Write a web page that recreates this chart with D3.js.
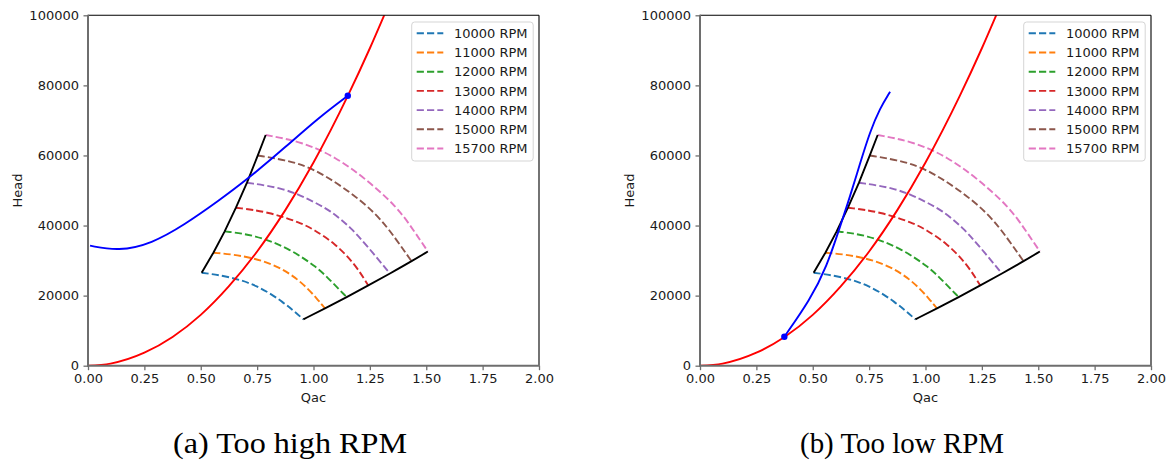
<!DOCTYPE html>
<html>
<head>
<meta charset="utf-8">
<script src="https://cdn.jsdelivr.net/npm/d3@7"></script>
<style>
body { margin: 0; background: #fff; }
</style>
</head>
<body>
<div id="graph"></div>
<script>
// speed lines, [Qac, Head]
var rpmLabels = ["10000 RPM", "11000 RPM", "12000 RPM", "13000 RPM", "14000 RPM", "15000 RPM", "15700 RPM"];
var rpmColors = ["#1f77b4", "#ff7f0e", "#2ca02c", "#d62728", "#9467bd", "#8c564b", "#e377c2"];
var rpm10000 = [[0.504, 26540], [0.63, 25400], [0.748, 23030], [0.866, 18260], [0.955, 13240]];
var rpm11000 = [[0.556, 32250], [0.674, 31590], [0.822, 29220], [0.94, 24460], [1.021, 18750], [1.051, 16360]];
var rpm12000 = [[0.606, 38350], [0.74, 37300], [0.89, 33600], [1.02, 27900], [1.073, 24460], [1.147, 19580]];
var rpm13000 = [[0.656, 45090], [0.8, 43950], [0.948, 40640], [1.0, 38900], [1.095, 34930], [1.184, 29000], [1.243, 22890]];
var rpm14000 = [[0.705, 52230], [0.874, 50630], [0.984, 47290], [1.073, 44440], [1.169, 39210], [1.236, 34300], [1.339, 26300]];
var rpm15000 = [[0.753, 60000], [0.874, 58700], [0.984, 56800], [1.132, 51080], [1.28, 43490], [1.369, 35870], [1.435, 29800]];
var rpm15700 = [[0.788, 65840], [0.95, 63900], [1.1, 59500], [1.23, 53400], [1.37, 45400], [1.443, 38730], [1.507, 32600]];

var surgeLine = [[0.504, 26540], [0.556, 32250], [0.606, 38350], [0.656, 45090], [0.705, 52230], [0.753, 60000], [0.788, 65840]];
var chokeLine = [[0.955, 13240], [1.051, 16360], [1.147, 19580], [1.243, 22890], [1.339, 26300], [1.435, 29800], [1.507, 32600]];

var systemCurve = [[0, 0], [0.1, 600], [0.25, 3700], [0.375, 8190], [0.5, 14500], [0.625, 22700], [0.75, 32600],
                   [0.875, 44400], [1.0, 58000], [1.152, 77000], [1.25, 90600], [1.33, 102500]];

var blueHigh = [[0.009, 34250], [0.135, 32700], [0.282, 34800], [0.43, 40300], [0.578, 47000], [0.707, 53200],
                [0.874, 62300], [1.021, 70700], [1.152, 77050]];
var blueLow = [[0.374, 8280], [0.488, 18750], [0.562, 28250], [0.621, 39670], [0.665, 48230], [0.71, 57760],
               [0.754, 66800], [0.798, 73460], [0.843, 78200]];
var highDot = [1.152, 77050];
var lowDot = [0.374, 8280];

var xTicks = [0, 0.25, 0.5, 0.75, 1.0, 1.25, 1.5, 1.75, 2.0];
var yTicks = [0, 20000, 40000, 60000, 80000, 100000];
var captions = ["(a) Too high RPM", "(b) Too low RPM"];

var speedLines = [rpm10000, rpm11000, rpm12000, rpm13000, rpm14000, rpm15000, rpm15700];

var W = 1171, H = 464;
var svg = d3.select("#graph")
            .append("svg")
            .attr("width", W)
            .attr("height", H);

function panel(left, blue, dot, caption, capW, id)
{
    var top = 15.3, bottom = 365.7, w = 451;
    var x = d3.scaleLinear().domain([0, 2]).range([left, left + w]);
    var y = d3.scaleLinear().domain([0, 100000]).range([bottom, top]);

    svg.append("clipPath").attr("id", "clip" + id)
        .append("rect")
        .attr("x", left).attr("y", top)
        .attr("width", w).attr("height", bottom - top);

    var g = svg.append("g");
    var plot = g.append("g").attr("clip-path", "url(#clip" + id + ")");

    var smooth = d3.line()
                   .x(function(d) { return x(d[0]); })
                   .y(function(d) { return y(d[1]); })
                   .curve(d3.curveBasis);
    var straight = d3.line()
                     .x(function(d) { return x(d[0]); })
                     .y(function(d) { return y(d[1]); });
    var through = d3.line()
                    .x(function(d) { return x(d[0]); })
                    .y(function(d) { return y(d[1]); })
                    .curve(d3.curveMonotoneX);

    speedLines.forEach(function(s, i) {
        plot.append("path")
            .attr("d", smooth(s))
            .attr("fill", "none")
            .attr("stroke", rpmColors[i])
            .attr("stroke-width", 1.9)
            .attr("stroke-dasharray", "7.2,3.1");
    });

    plot.append("path").attr("d", straight(surgeLine))
        .attr("fill", "none").attr("stroke", "#000").attr("stroke-width", 1.9);
    plot.append("path").attr("d", smooth(chokeLine))
        .attr("fill", "none").attr("stroke", "#000").attr("stroke-width", 1.9);

    plot.append("path").attr("d", through(systemCurve))
        .attr("fill", "none").attr("stroke", "#ff0000").attr("stroke-width", 1.9);

    plot.append("path").attr("d", smooth(blue))
        .attr("fill", "none").attr("stroke", "#0000ff").attr("stroke-width", 1.9);

    plot.append("circle")
        .attr("cx", x(dot[0])).attr("cy", y(dot[1]))
        .attr("r", 3.2).attr("fill", "#0000ff");

    // axes
    var xa = g.append("g")
              .attr("transform", "translate(0," + bottom + ")")
              .call(d3.axisBottom(x).tickValues(xTicks).tickFormat(d3.format(".2f"))
                      .tickSize(4.5).tickSizeOuter(0).tickPadding(4));
    var ya = g.append("g")
              .attr("transform", "translate(" + left + ",0)")
              .call(d3.axisLeft(y).tickValues(yTicks).tickFormat(d3.format("d"))
                      .tickSize(4.5).tickSizeOuter(0).tickPadding(4.5));
    [xa, ya].forEach(function(a) {
        a.select(".domain").remove();
        a.selectAll("line").attr("stroke", "#6e6e6e").attr("stroke-width", 1.3);
        a.selectAll("text")
         .style("font-family", "DejaVu Sans")
         .style("font-size", "13px")
         .attr("fill", "#1a1a1a");
    });

    // spines
    g.append("line").attr("x1", left).attr("x2", left + w).attr("y1", top).attr("y2", top)
        .attr("stroke", "#000").attr("stroke-width", 1.1);
    g.append("line").attr("x1", left + w).attr("x2", left + w).attr("y1", top).attr("y2", bottom)
        .attr("stroke", "#000").attr("stroke-width", 1.1);
    g.append("line").attr("x1", left).attr("x2", left).attr("y1", top - 0.5).attr("y2", bottom + 1)
        .attr("stroke", "#6e6e6e").attr("stroke-width", 2);
    g.append("line").attr("x1", left - 1).attr("x2", left + w).attr("y1", bottom).attr("y2", bottom)
        .attr("stroke", "#6e6e6e").attr("stroke-width", 2);

    // axis titles
    g.append("text")
        .attr("x", left + w / 2).attr("y", 402)
        .attr("text-anchor", "middle")
        .style("font-family", "DejaVu Sans").style("font-size", "13px")
        .attr("fill", "#1a1a1a")
        .text("Qac");
    g.append("text")
        .attr("transform", "translate(" + (left - 66) + "," + ((top + bottom) / 2) + ") rotate(-90)")
        .attr("text-anchor", "middle")
        .style("font-family", "DejaVu Sans").style("font-size", "13px")
        .attr("fill", "#1a1a1a")
        .text("Head");

    // legend
    var lx = left + 323.7, ly = 22;
    g.append("rect")
        .attr("x", lx).attr("y", ly)
        .attr("width", 121.5).attr("height", 139)
        .attr("rx", 3)
        .attr("fill", "#fff").attr("fill-opacity", 0.8)
        .attr("stroke", "#d5d5d5").attr("stroke-width", 1);
    rpmLabels.forEach(function(lab, i) {
        var yy = 33.3 + i * 19.2;
        g.append("line")
            .attr("x1", lx + 5).attr("x2", lx + 31.6)
            .attr("y1", yy).attr("y2", yy)
            .attr("stroke", rpmColors[i]).attr("stroke-width", 1.9)
            .attr("stroke-dasharray", "7.2,3.1");
        g.append("text")
            .attr("x", lx + 42.3).attr("y", yy + 4.6)
            .style("font-family", "DejaVu Sans").style("font-size", "13px")
            .attr("fill", "#1a1a1a")
            .text(lab);
    });

    // caption
    g.append("text")
        .attr("x", left + 202).attr("y", 453)
        .attr("text-anchor", "middle")
        .attr("textLength", capW).attr("lengthAdjust", "spacingAndGlyphs")
        .style("font-family", "Liberation Serif").style("font-size", "30px")
        .attr("fill", "#000")
        .text(caption);
}

panel(88, blueHigh, highDot, captions[0], 234, "a");
panel(700, blueLow, lowDot, captions[1], 204, "b");
</script>
</body>
</html>
